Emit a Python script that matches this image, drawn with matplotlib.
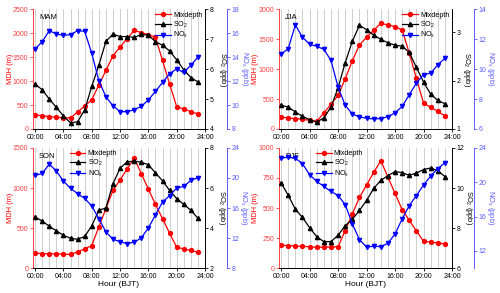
import matplotlib
matplotlib.use("Agg")
import matplotlib.pyplot as plt
import numpy as np

plt.rcParams['font.family'] = ['Liberation Sans', 'DejaVu Sans']
plt.rcParams['mathtext.fontset'] = 'custom'
plt.rcParams['mathtext.rm'] = 'Liberation Sans'
plt.rcParams['mathtext.it'] = 'Liberation Sans'

hours = list(range(24))
xtick_labels = ["00:00", "04:00", "08:00", "12:00", "16:00", "20:00", "24:00"]
seasons = ["MAM", "JJA", "SON", "DJF"]

mdh_mam = [290, 278, 257, 243, 236, 229, 354, 479, 611, 917, 1222, 1528, 1715, 1889,
           2062, 2014, 1972, 1917, 1431, 938, 465, 417, 361, 312]
so2_mam = [5.5, 5.31, 5.0, 4.72, 4.44, 4.2, 4.24, 4.64, 5.42, 6.13, 6.93, 7.17, 7.09, 7.09,
           7.06, 7.16, 7.14, 6.92, 6.8, 6.61, 6.31, 5.98, 5.72, 5.57]
nox_mam = [14.69, 15.3, 16.22, 15.94, 15.83, 15.89, 16.22, 16.17, 14.33, 12.03, 10.69, 9.94,
           9.44, 9.44, 9.61, 9.89, 10.42, 11.14, 11.89, 12.61, 13.03, 12.72, 13.33, 14.0]

mdh_jja = [200, 183, 172, 161, 144, 128, 267, 411, 561, 839, 1139, 1406, 1533, 1650,
           1767, 1739, 1711, 1656, 1267, 844, 433, 361, 294, 217]
so2_jja = [1.49, 1.45, 1.35, 1.26, 1.19, 1.14, 1.23, 1.45, 1.85, 2.37, 2.81, 3.14, 3.05, 2.94,
           2.85, 2.78, 2.73, 2.71, 2.58, 2.27, 1.97, 1.72, 1.59, 1.52]
nox_jja = [11.0, 11.38, 12.96, 12.13, 11.67, 11.53, 11.33, 10.58, 8.8, 7.58, 7.0, 6.8,
           6.71, 6.67, 6.69, 6.82, 7.07, 7.51, 8.29, 9.07, 9.64, 9.73, 10.29, 10.73]

mdh_son = [186, 182, 178, 178, 174, 170, 203, 240, 282, 514, 742, 970, 1102, 1239,
           1372, 1181, 986, 796, 617, 435, 261, 240, 220, 199]
so2_son = [4.55, 4.35, 4.09, 3.86, 3.64, 3.49, 3.44, 3.58, 4.11, 4.89, 5.0, 6.21, 6.99, 7.31,
           7.34, 7.29, 7.16, 6.76, 6.36, 5.88, 5.47, 5.18, 4.89, 4.49]
nox_son = [20.34, 20.6, 21.85, 20.92, 19.59, 18.62, 17.91, 17.29, 16.27, 14.59, 12.82, 11.85,
           11.5, 11.27, 11.45, 12.03, 13.35, 15.08, 16.81, 17.65, 18.66, 18.88, 19.68, 20.04]

mdh_djf = [192, 187, 184, 181, 178, 173, 175, 175, 178, 312, 451, 588, 691, 797,
           894, 758, 621, 487, 398, 309, 223, 217, 209, 201]
so2_djf = [10.25, 9.63, 8.94, 8.53, 8.02, 7.57, 7.32, 7.32, 7.64, 8.12, 8.44, 8.88, 9.38, 9.98,
           10.38, 10.62, 10.82, 10.77, 10.63, 10.75, 10.92, 11.0, 10.87, 10.57]
nox_djf = [22.83, 22.91, 22.79, 22.17, 20.88, 20.1, 19.52, 18.93, 18.46, 17.41, 15.15, 13.32,
           12.46, 12.54, 12.5, 12.89, 13.98, 15.73, 17.29, 18.46, 19.67, 20.73, 21.58, 22.29]

mdh_all = [mdh_mam, mdh_jja, mdh_son, mdh_djf]
so2_all = [so2_mam, so2_jja, so2_son, so2_djf]
nox_all = [nox_mam, nox_jja, nox_son, nox_djf]

mdh_ylims = [(0, 2500), (0, 2000), (0, 1500), (0, 1000)]
mdh_ticks = [np.arange(0, 2501, 500), np.arange(0, 2001, 500), np.arange(0, 1501, 500), np.arange(0, 1001, 250)]
so2_ylims = [(4, 8), (1, 3.47), (2, 8), (6, 12)]
so2_ticks = [np.arange(4, 9, 1), [1, 2, 3], np.arange(2, 9, 2), np.arange(6, 13, 2)]
nox_ylims = [(8, 18), (6, 14), (8, 24), (10, 24)]
nox_ticks = [np.arange(8, 19, 2), np.arange(6, 15, 2), np.arange(8, 25, 4), np.arange(12, 25, 4)]

positions = [
    [0.066, 0.560, 0.344, 0.408],
    [0.558, 0.560, 0.346, 0.408],
    [0.066, 0.085, 0.344, 0.410],
    [0.558, 0.085, 0.346, 0.410],
]
legend_locs = [(1.0, 1.0, 'upper right'), (1.0, 1.0, 'upper right'),
               (0.2, 1.0, 'upper left'), (0.2, 1.0, 'upper left')]
so2_label_x = [1.102, 1.085, 1.094, 1.098]
nox_label_x = [1.228, 1.222, 1.222, 1.222]

RED = '#ff0000'
RED_AX = '#ff4040'
BLUE = '#0000ff'
BLUE_AX = '#5a5aff'
FS = 5.0
LFS = 5.4

fig = plt.figure(figsize=(5.0, 2.93), dpi=100)

for i in range(4):
    ax = fig.add_axes(positions[i])
    ax2 = ax.twinx()
    ax3 = ax.twinx()
    ax3.spines['right'].set_position(('outward', 15.5))

    for h in range(0, 24):
        ax.axvline(h, color='#cfcfcf', lw=0.7, zorder=0)

    l1, = ax.plot(hours, mdh_all[i], '-o', color=RED, ms=2.8, lw=0.9, label='Mixdepth')
    l2, = ax2.plot(hours, so2_all[i], '-^', color='black', ms=3.0, lw=0.9, label='SO$_2$')
    l3, = ax3.plot(hours, nox_all[i], '-v', color=BLUE, ms=3.0, lw=0.9, label='NO$_x$')

    ax.set_xlim(-0.3, 24)
    ax.set_xticks(range(0, 25, 4))
    ax.set_xticklabels(xtick_labels)
    ax.set_ylim(*mdh_ylims[i])
    ax.set_yticks(mdh_ticks[i])
    ax2.set_ylim(*so2_ylims[i])
    ax2.set_yticks(so2_ticks[i])
    ax3.set_ylim(*nox_ylims[i])
    ax3.set_yticks(nox_ticks[i])

    ax.tick_params(axis='x', labelsize=FS, length=2, width=0.6, pad=1.5)
    ax.tick_params(axis='y', labelsize=FS, length=2, width=0.6, pad=1.5, colors=RED_AX)
    ax2.tick_params(axis='y', labelsize=FS, length=2, width=0.6, pad=1.5, colors='black')
    ax3.tick_params(axis='y', labelsize=FS, length=2, width=0.6, pad=1.5, colors=BLUE_AX)

    ax.spines['left'].set_color(RED_AX)
    for a in (ax, ax2, ax3):
        a.spines['top'].set_visible(False)
    ax2.spines['left'].set_visible(False)
    ax3.spines['left'].set_visible(False)
    ax.spines['right'].set_visible(False)
    ax2.spines['right'].set_color('black')
    ax3.spines['right'].set_color(BLUE_AX)
    for a in (ax, ax2, ax3):
        for s in a.spines.values():
            s.set_linewidth(0.7)

    ax.set_ylabel('MDH (m)', color=RED, fontsize=LFS)
    ax.yaxis.set_label_coords(-0.133, 0.5)
    ax.yaxis.label.set_va('center')

    ax2.set_ylabel('SO$_2$ (ppb)', color='black', fontsize=LFS)
    ax2.yaxis.label.set_rotation(270)
    ax2.yaxis.label.set_va('center')
    ax2.yaxis.label.set_ha('center')
    ax2.yaxis.set_label_coords(so2_label_x[i], 0.5)

    ax3.set_ylabel('NO$_x$ (ppb)', color=BLUE_AX, fontsize=LFS)
    ax3.yaxis.label.set_rotation(270)
    ax3.yaxis.label.set_va('center')
    ax3.yaxis.label.set_ha('center')
    ax3.yaxis.set_label_coords(nox_label_x[i], 0.5)

    if i >= 2:
        ax.set_xlabel('Hour (BJT)', fontsize=6.0, labelpad=1)

    ax.text(0.035, 0.96, seasons[i], transform=ax.transAxes, fontsize=5.5,
            ha='left', va='top')

    bx, by, loc = legend_locs[i]
    ax3.legend([l1, l2, l3], ['Mixdepth', 'SO$_2$', 'NO$_x$'], loc=loc,
               bbox_to_anchor=(bx, by), frameon=False, fontsize=5.2,
               handlelength=2.2, handletextpad=0.3, labelspacing=0.1,
               borderaxespad=0.1, borderpad=0.2)

fig.savefig('out.png', dpi=100)
